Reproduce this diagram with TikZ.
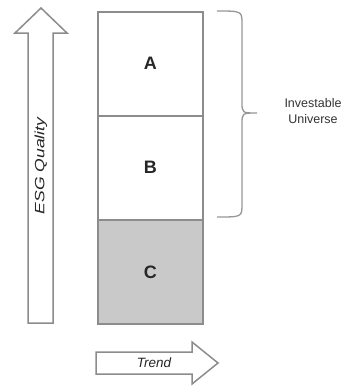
\documentclass[tikz,border=0pt]{standalone}
\usepackage{fontspec}
\setmainfont{Liberation Sans}
\definecolor{edge}{HTML}{8C8C8C}
\definecolor{cfill}{HTML}{C9C9C9}
\tikzset{
  cell/.style={draw=edge, line width=1.6pt, minimum width=105pt, minimum height=104pt, anchor=north west, inner sep=0pt, font=\fontsize{18}{20}\selectfont\bfseries, text=black!85},
  bigarrow/.style={draw=edge, line width=1.5pt, fill=white, line join=miter},
  bracestyle/.style={draw=edge!90, line width=1.3pt},
  lbl/.style={font=\fontsize{12.5}{16}\selectfont, text=black!80, align=center},
  arrlbl/.style={font=\fontsize{13.5}{16}\selectfont\itshape, text=black!85}
}
\begin{document}
\begin{tikzpicture}[x=1pt,y=-1pt]
\useasboundingbox (0,0) rectangle (355,392);
% boxes
\node[cell] (A) at (97,11) {A};
\node[cell] (B) at (97,115) {B};
\node[cell, fill=cfill] (C) at (97,219) {C};
% ESG quality arrow
\draw[bigarrow] (28,323) -- (28,33) -- (15,33) -- (41,8) -- (67,33) -- (53,33) -- (53,323) -- cycle;
\node[arrlbl, rotate=90] (esg) at (41,166) {\scalebox{1.3}[1]{ESG Quality}};
% Trend arrow
\draw[bigarrow] (96,352) -- (192,352) -- (192,342) -- (218,363) -- (192,384) -- (192,374) -- (96,374) -- cycle;
\node[arrlbl] (trend) at (154,363) {Trend};
% brace
\coordinate (bt) at (217,11);
\coordinate (bb) at (217,217);
\coordinate (btip) at (257,113);
\draw[bracestyle] (bt) .. controls (242,11) .. (242,24) -- (242,102) .. controls (242,113) .. (btip)
  .. controls (242,113) .. (242,124) -- (242,204) .. controls (242,217) .. (bb);
\node[lbl] (inv) at (313,111) {Investable\\Universe};
\end{tikzpicture}
\end{document}
